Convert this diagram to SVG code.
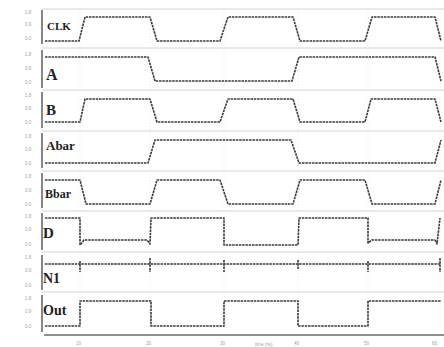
<svg xmlns="http://www.w3.org/2000/svg" width="444" height="347" viewBox="0 0 444 347">
<style>
.bg{fill:#ffffff}
.frame{stroke:#d4d4d4;stroke-width:1;fill:none}
.grid{stroke:#e2e2e2;stroke-width:0.8;stroke-dasharray:1 2;fill:none}
.axis{stroke:#6a6a6a;stroke-width:1.6;fill:none}
.tick{fill:#a0a0a0;font-family:"Liberation Sans",sans-serif;font-size:4.5px}
.wave{stroke:#3a3a3a;stroke-width:1.6;fill:none;stroke-dasharray:2.5 0.8;stroke-linejoin:round}
.lbl{font-family:"Liberation Serif",serif;font-weight:bold;fill:#222}
</style>
<rect class="bg" x="0" y="0" width="444" height="347"/>
<g id="grid">
<path class="frame" d="M42,9H444M42,48H444M42,90H444M42,131H444M42,171H444M42,211H444M42,252H444M42,292H444"/>
<path class="grid" d="M80,9V333M150,9V333M224,9V333M298,9V333M368,9V333M440,9V333"/>
</g>
<g id="axes">
<path class="axis" d="M42,10V44M42,50V88M42,92V128M42,133V168M42,173V208M42,213V250M42,255V290M42,295V332"/>
<path class="axis" d="M44,335H444" stroke-width="1.4"/>
<g class="tick">
<text x="25" y="14">1.8</text><text x="25" y="26">0.9</text><text x="25" y="40">0.0</text>
<text x="25" y="56">1.8</text><text x="25" y="70">0.9</text><text x="25" y="84">0.0</text>
<text x="25" y="97">1.8</text><text x="25" y="110">0.9</text><text x="25" y="124">0.0</text>
<text x="25" y="138">1.8</text><text x="25" y="151">0.9</text><text x="25" y="165">0.0</text>
<text x="25" y="178">1.8</text><text x="25" y="192">0.9</text><text x="25" y="206">0.0</text>
<text x="25" y="218">1.8</text><text x="25" y="231">0.9</text><text x="25" y="246">0.0</text>
<text x="25" y="259">1.8</text><text x="25" y="272">0.9</text><text x="25" y="287">0.0</text>
<text x="25" y="300">1.8</text><text x="25" y="313">0.9</text><text x="25" y="328">0.0</text>
<text x="76" y="345">10</text><text x="146" y="345">20</text><text x="220" y="345">30</text>
<text x="294" y="345">40</text><text x="364" y="345">50</text><text x="432" y="345">60</text>
<text x="255" y="346">time (ns)</text>
</g>
</g>
<g id="CLK">
<path class="wave" d="M45,41L79,41L85,17L150,17L157,41L220,41L228,17L293,17L300,41L365,41L372,17L435,17L441,41"/>
<text class="lbl" x="47" y="30" font-size="11">CLK</text>
</g>
<g id="A">
<path class="wave" d="M45,57L148,57L155,81L292,81L299,57L435,57L441,81"/>
<text class="lbl" x="46" y="80" font-size="16">A</text>
</g>
<g id="B">
<path class="wave" d="M45,122L80,122L85,99L150,99L157,122L220,122L228,99L293,99L300,122L365,122L371,99L435,99L441,122"/>
<text class="lbl" x="46" y="115" font-size="15">B</text>
</g>
<g id="Abar">
<path class="wave" d="M45,163L148,163L155,140L291,140L299,163L435,163L441,140"/>
<text class="lbl" x="46" y="150" font-size="13">Abar</text>
</g>
<g id="Bbar">
<path class="wave" d="M45,180L80,180L86,204L150,204L157,180L220,180L228,204L293,204L300,180L365,180L372,204L435,204L441,180"/>
<text class="lbl" x="45" y="198" font-size="12">Bbar</text>
</g>
<g id="D">
<path class="wave" d="M45,218L80,218L80,245L84,240L147,240L150,244L151,218L224,218L224,245L298,245L299,218L368,218L368,243L372,240L435,240L437,244L440,218"/>
<text class="lbl" x="43" y="238" font-size="15">D</text>
</g>
<g id="N1">
<path class="wave" d="M45,264L441,264"/>
<path class="wave" stroke-dasharray="none" d="M80,261V272M150,258V272M224,260V272M298,260V270M368,261V272M440,258V272"/>
<text class="lbl" x="43" y="283" font-size="14">N1</text>
</g>
<g id="Out">
<path class="wave" d="M45,326L80,326L80,301L151,301L151,326L224,326L224,301L298,301L298,326L368,326L368,301L441,301"/>
<text class="lbl" x="43" y="315" font-size="14">Out</text>
</g>
</svg>
